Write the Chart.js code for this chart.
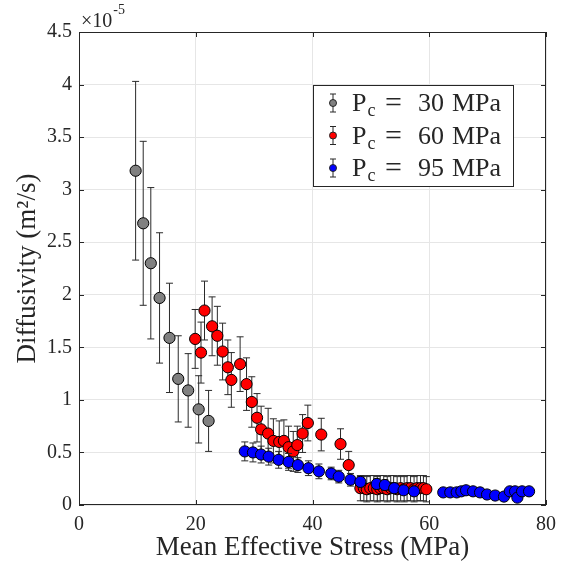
<!DOCTYPE html>
<html>
<head>
<meta charset="utf-8">
<script src="https://cdn.jsdelivr.net/npm/chart.js@4/dist/chart.umd.min.js"></script>
<style>
  html, body { margin: 0; padding: 0; background: #fff; }
  #c { display: block; }
</style>
</head>
<body>
<canvas id="c" width="564" height="568"></canvas>
<script>
// Diffusivity vs mean effective stress (units of 1e-5 m^2/s)
const grayStress = [9.7, 11.0, 12.3, 13.8, 15.5, 17.0, 18.7, 20.5, 22.2];
const grayDiff   = [3.18, 2.68, 2.30, 1.97, 1.59, 1.20, 1.09, 0.91, 0.80];
const grayErr    = [0.85, 0.78, 0.72, 0.62, 0.52, 0.41, 0.35, 0.32, 0.29];

const redStress = [19.9, 20.9, 21.5, 22.8, 23.7, 24.6, 25.5, 26.1, 27.6, 28.7, 29.6, 30.5, 31.2, 32.4, 33.3, 34.3, 35.1, 35.9, 36.7, 37.4, 38.3, 39.2, 41.5, 44.8, 46.2,
  48.2, 48.8, 49.3, 49.9, 50.5, 51.1, 51.6, 52.2, 52.8, 53.4, 53.9, 54.5, 55.1, 55.7, 56.2, 56.8, 57.4, 57.9, 58.5, 59.0, 59.5];
const redDiff = [1.58, 1.45, 1.85, 1.70, 1.61, 1.46, 1.31, 1.19, 1.34, 1.15, 0.98, 0.83, 0.72, 0.68, 0.61, 0.60, 0.61, 0.55, 0.51, 0.57, 0.68, 0.78, 0.67, 0.58, 0.38,
  0.16, 0.16, 0.15, 0.16, 0.16, 0.15, 0.16, 0.16, 0.15, 0.16, 0.16, 0.15, 0.16, 0.15, 0.16, 0.16, 0.15, 0.16, 0.16, 0.16, 0.15];
const redErr = [0.28, 0.29, 0.28, 0.28, 0.28, 0.27, 0.26, 0.26, 0.26, 0.25, 0.24, 0.23, 0.22, 0.24, 0.21, 0.20, 0.20, 0.20, 0.19, 0.18, 0.18, 0.17, 0.155, 0.145, 0.13,
  0.12, 0.12, 0.12, 0.12, 0.12, 0.12, 0.12, 0.12, 0.12, 0.12, 0.12, 0.12, 0.12, 0.12, 0.12, 0.12, 0.12, 0.12, 0.12, 0.12, 0.12];

const blueStress = [28.4, 29.8, 31.2, 32.5, 34.2, 35.9, 37.5, 39.3, 41.1, 43.2, 44.5, 46.5, 48.2, 51.0, 52.4, 54.0, 55.6, 57.4,
  62.4, 63.6, 64.7, 65.5, 66.3, 67.5, 68.7, 69.9, 71.3, 72.8, 73.8, 74.7, 75.1, 75.9, 77.1];
const blueDiff = [0.51, 0.50, 0.48, 0.46, 0.43, 0.41, 0.38, 0.35, 0.32, 0.30, 0.27, 0.24, 0.22, 0.20, 0.19, 0.16, 0.14, 0.13,
  0.12, 0.12, 0.12, 0.13, 0.14, 0.13, 0.12, 0.10, 0.09, 0.08, 0.13, 0.13, 0.07, 0.13, 0.13];
const blueErr = [0.09, 0.09, 0.08, 0.08, 0.08, 0.08, 0.07, 0.07, 0.07, 0.06, 0.06, 0.06, 0.05, 0.05, 0.05, 0.05, 0.04, 0.04,
  0.02, 0.02, 0.02, 0.02, 0.02, 0.02, 0.02, 0.02, 0.02, 0.02, 0.02, 0.02, 0.02, 0.02, 0.02];

const seriesNames = ['30', '60', '95'];
const xTicks = [0, 20, 40, 60, 80];
const yTicks = [0, 0.5, 1, 1.5, 2, 2.5, 3, 3.5, 4, 4.5];

const serif = '"Liberation Serif", "Times New Roman", serif';
const ink = '#262626';

const pts = (xs, ys) => xs.map((x, i) => ({x, y: ys[i]}));

// error bars, drawn right before each dataset's markers
const errPlugin = {
  id: 'errbars',
  beforeDatasetDraw(chart, args) {
    const ds = chart.data.datasets[args.index];
    if (!ds.err) return;
    const ctx = chart.ctx, ys = chart.scales.y;
    ctx.save();
    ctx.strokeStyle = ds.errColor;
    ctx.lineWidth = 1;
    args.meta.data.forEach((p, i) => {
      const v = ds.data[i].y, e = ds.err[i];
      const a = ys.getPixelForValue(v + e), b = ys.getPixelForValue(v - e);
      ctx.beginPath();
      ctx.moveTo(p.x, a); ctx.lineTo(p.x, b);
      ctx.moveTo(p.x - 3.5, a); ctx.lineTo(p.x + 3.5, a);
      ctx.moveTo(p.x - 3.5, b); ctx.lineTo(p.x + 3.5, b);
      ctx.stroke();
    });
    ctx.restore();
  }
};

// box, inward ticks, exponent label and legend
const framePlugin = {
  id: 'frame',
  afterDraw(chart) {
    const ctx = chart.ctx, {left, right, top, bottom} = chart.chartArea;
    const xs = chart.scales.x, ys = chart.scales.y;
    ctx.save();
    ctx.strokeStyle = ink;
    ctx.lineWidth = 1;
    ctx.strokeRect(left + 0.5, top + 0.5, right - left - 1, bottom - top - 1);
    ctx.beginPath();
    xTicks.forEach(t => {
      const x = Math.round(xs.getPixelForValue(t)) + 0.5;
      ctx.moveTo(x, bottom); ctx.lineTo(x, bottom - 5);
      ctx.moveTo(x, top); ctx.lineTo(x, top + 5);
    });
    yTicks.forEach(t => {
      const y = Math.round(ys.getPixelForValue(t)) + 0.5;
      ctx.moveTo(left, y); ctx.lineTo(left + 5, y);
      ctx.moveTo(right, y); ctx.lineTo(right - 5, y);
    });
    ctx.stroke();

    // x10^-5
    ctx.fillStyle = ink;
    ctx.textBaseline = 'alphabetic';
    ctx.font = '20px ' + serif;
    ctx.fillText('\u00d710', left + 2, top - 5);
    const w = ctx.measureText('\u00d710').width;
    ctx.font = '14px ' + serif;
    ctx.fillText('-5', left + 3 + w, top - 18);

    // legend
    const lx = right - 233, ly = top + 53, lw = 200, lh = 101;
    ctx.fillStyle = '#fff';
    ctx.fillRect(lx, ly, lw, lh);
    ctx.strokeStyle = ink;
    ctx.strokeRect(lx + 0.5, ly + 0.5, lw, lh);
    chart.data.datasets.forEach((ds, i) => {
      const cy = ly + 18 + i * 32.5, mx = lx + 20;
      ctx.strokeStyle = ink;
      ctx.beginPath();
      ctx.moveTo(mx, cy - 9); ctx.lineTo(mx, cy + 9);
      ctx.moveTo(mx - 3, cy - 9); ctx.lineTo(mx + 3, cy - 9);
      ctx.moveTo(mx - 3, cy + 9); ctx.lineTo(mx + 3, cy + 9);
      ctx.stroke();
      ctx.beginPath();
      ctx.arc(mx, cy, 3.5, 0, Math.PI * 2);
      ctx.fillStyle = ds.backgroundColor;
      ctx.fill();
      ctx.stroke();
      ctx.fillStyle = ink;
      const base = cy + 8;
      ctx.font = '26px ' + serif;
      ctx.fillText('P', lx + 39, base);
      const pw = ctx.measureText('P').width;
      ctx.font = '18px ' + serif;
      ctx.fillText('c', lx + 39 + pw + 1, base + 5);
      ctx.font = '30px ' + serif;
      ctx.fillText('=', lx + 72, base + 1);
      ctx.font = '26px ' + serif;
      ctx.fillText(seriesNames[i], lx + 105, base);
      ctx.fillText('MPa', lx + 139, base);
    });
    ctx.restore();
  }
};

const mkSet = (xs, ys, err, color, order) => ({
  data: pts(xs, ys), err, errColor: '#2a2a2a', order,
  backgroundColor: color, borderColor: '#000', borderWidth: 1,
  pointRadius: 5.6, pointHoverRadius: 5.6
});

new Chart(document.getElementById('c'), {
  type: 'scatter',
  data: {
    datasets: [
      mkSet(grayStress, grayDiff, grayErr, '#808080', 3),
      mkSet(redStress, redDiff, redErr, '#ff0000', 2),
      mkSet(blueStress, blueDiff, blueErr, '#0000ff', 1)
    ]
  },
  options: {
    responsive: false,
    animation: false,
    events: [],
    layout: {padding: {left: 0, top: 32, right: 11, bottom: 0}},
    plugins: {legend: {display: false}, tooltip: {enabled: false}},
    scales: {
      x: {
        type: 'linear', min: 0, max: 80,
        afterFit: s => { s.height = 63; },
        afterBuildTicks: s => { s.ticks = xTicks.map(v => ({value: v})); },
        grid: {color: '#e6e6e6', drawTicks: false},
        border: {display: false},
        ticks: {color: ink, padding: 8, font: {family: serif, size: 20}, callback: v => String(v)},
        title: {display: true, text: 'Mean Effective Stress (MPa)', color: ink, padding: {top: 0, bottom: 4}, font: {family: serif, size: 27}}
      },
      y: {
        type: 'linear', min: 0, max: 4.5,
        afterFit: s => { s.width = 79; },
        afterBuildTicks: s => { s.ticks = yTicks.map(v => ({value: v})); },
        grid: {color: '#e6e6e6', drawTicks: false},
        border: {display: false},
        ticks: {color: ink, padding: 7, font: {family: serif, size: 20}, callback: v => String(v)},
        title: {display: true, text: 'Diffusivity (m\u00b2/s)', color: ink, padding: {top: 12, bottom: 0}, font: {family: serif, size: 27}}
      }
    }
  },
  plugins: [errPlugin, framePlugin]
});
</script>
</body>
</html>
